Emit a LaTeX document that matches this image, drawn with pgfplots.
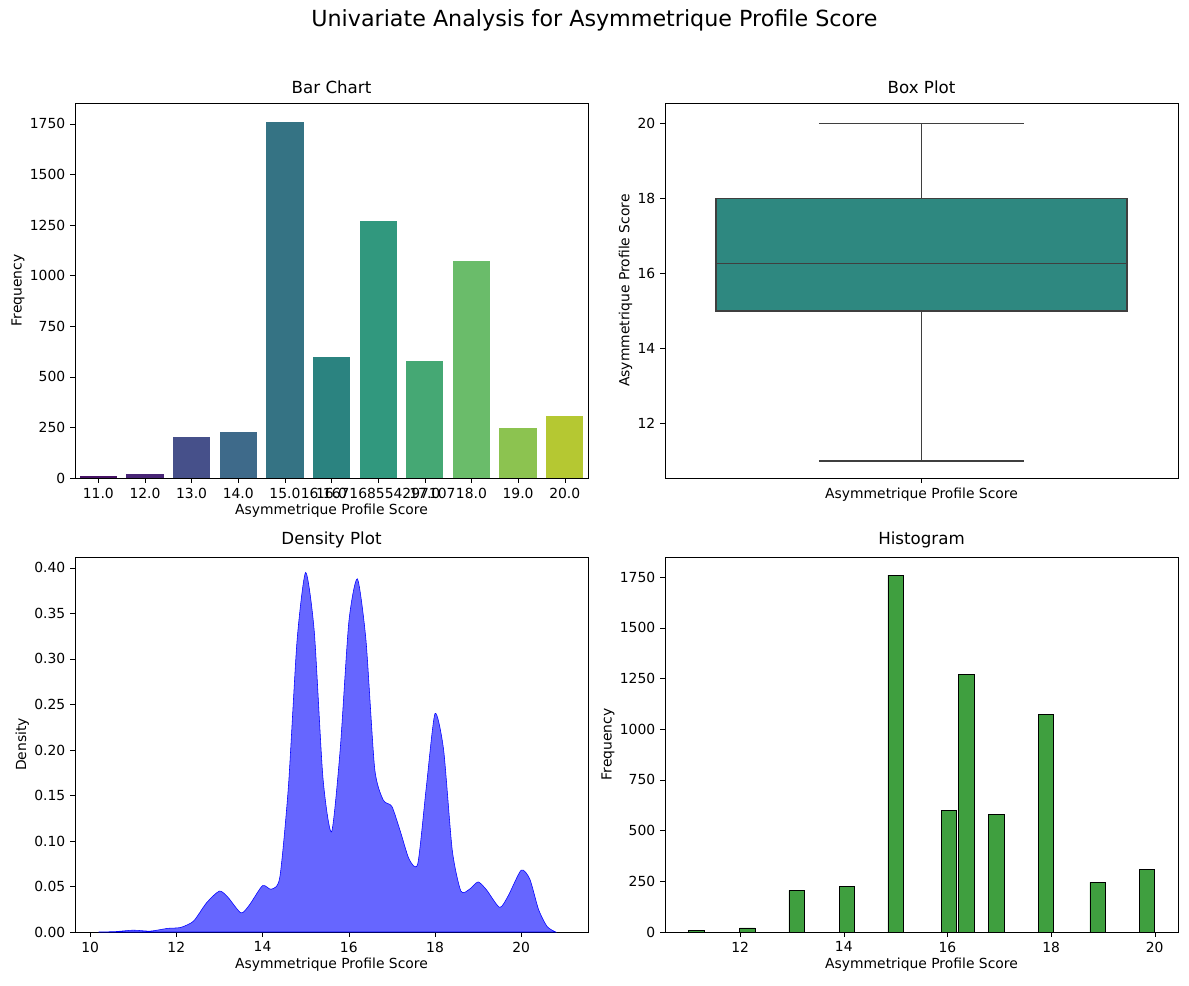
\documentclass[border=0pt]{standalone}
\usepackage{pgfplots}
\pgfplotsset{compat=1.18}
\usepackage{fontspec}
\setmainfont{DejaVu Sans}
\definecolor{v1}{HTML}{471365}
\definecolor{v2}{HTML}{482576}
\definecolor{v3}{HTML}{46508A}
\definecolor{v4}{HTML}{3E6A8A}
\definecolor{v5}{HTML}{357384}
\definecolor{v6}{HTML}{2B8380}
\definecolor{v7}{HTML}{31987E}
\definecolor{v8}{HTML}{45A874}
\definecolor{v9}{HTML}{6ABC6A}
\definecolor{v10}{HTML}{8CC350}
\definecolor{v11}{HTML}{B5C832}
\definecolor{boxc}{HTML}{2E8880}
\definecolor{histc}{HTML}{3F9F3F}
\definecolor{lg}{HTML}{3F3F3F}
\pgfplotsset{every axis/.style={scale only axis, width=369.4pt, height=270pt,
  /pgf/number format/assume math mode=true, font=\fontsize{10}{12}\selectfont,
  tick style={black}, tick align=outside, major tick length=3.5pt,
  title style={font=\fontsize{12}{14}\selectfont, yshift=-3pt},
  xlabel style={yshift=3pt}, ylabel style={yshift=-3pt},
  xtick pos=bottom, ytick pos=left, anchor=south west,
  scaled y ticks=false, yticklabel style={/pgf/number format/fixed, /pgf/number format/1000 sep={}}}}
\begin{document}
\begin{tikzpicture}
\useasboundingbox (0,0) rectangle (856.08pt,709.2pt);
\node at (428pt,694.8pt) {\fontsize{16}{19}\selectfont Univariate Analysis for Asymmetrique Profile Score};
% Bar chart
\begin{axis}[at={(54pt,365.04pt)}, title={Bar Chart}, xlabel={Asymmetrique Profile Score}, ylabel={Frequency},
  xmin=-0.5, xmax=10.5, ymin=0, ymax=1853, xtick={0,...,10},
  xticklabels={11.0,12.0,13.0,14.0,15.0,16.0,16.167168554297107,17.0,18.0,19.0,20.0},
  ytick={0,250,500,750,1000,1250,1500,1750}, ybar, bar width=0.8, bar shift=0pt]
\addplot[fill=v1,draw=none] coordinates {(0,8)};
\addplot[fill=v2,draw=none] coordinates {(1,20)};
\addplot[fill=v3,draw=none] coordinates {(2,205)};
\addplot[fill=v4,draw=none] coordinates {(3,225)};
\addplot[fill=v5,draw=none] coordinates {(4,1760)};
\addplot[fill=v6,draw=none] coordinates {(5,600)};
\addplot[fill=v7,draw=none] coordinates {(6,1270)};
\addplot[fill=v8,draw=none] coordinates {(7,580)};
\addplot[fill=v9,draw=none] coordinates {(8,1072)};
\addplot[fill=v10,draw=none] coordinates {(9,245)};
\addplot[fill=v11,draw=none] coordinates {(10,308)};
\end{axis}
% Box plot
\begin{axis}[at={(478.8pt,365.04pt)}, title={Box Plot}, ylabel={Asymmetrique Profile Score},
  xmin=-0.5, xmax=0.5, ymin=10.55, ymax=20.55, xtick={0}, xticklabels={Asymmetrique Profile Score},
  ytick={12,14,16,18,20}]
\addplot[fill=boxc, draw=lg, line width=1.2pt] coordinates {(-0.4,15) (0.4,15) (0.4,18) (-0.4,18)} -- cycle;
\addplot[draw=lg, line width=1.2pt] coordinates {(-0.4,16.27) (0.4,16.27)};
\addplot[draw=lg, line width=1.2pt] coordinates {(0,15) (0,11)};
\addplot[draw=lg, line width=1.2pt] coordinates {(0,18) (0,20)};
\addplot[draw=lg, line width=1.2pt] coordinates {(-0.2,11) (0.2,11)};
\addplot[draw=lg, line width=1.2pt] coordinates {(-0.2,20) (0.2,20)};
\end{axis}
% Density
\begin{axis}[at={(54pt,38.16pt)}, title={Density Plot}, xlabel={Asymmetrique Profile Score}, ylabel={Density},
  xmin=9.65, xmax=21.55, ymin=0, ymax=0.412, xtick={10,12,14,16,18,20},
  ytick={0,0.05,0.1,0.15,0.2,0.25,0.3,0.35,0.4},
  yticklabel style={/pgf/number format/fixed, /pgf/number format/fixed zerofill, /pgf/number format/precision=2}]
\addplot[blue, fill=blue, fill opacity=0.6, draw opacity=1, smooth, tension=0.4] coordinates {
(10.2,0) (10.6,0.0005) (11.0,0.002) (11.4,0.001) (11.8,0.004) (12.1,0.005) (12.4,0.012) (12.7,0.032) (13.0,0.045) (13.2,0.038) (13.5,0.021)
(13.7,0.030) (14.0,0.051) (14.2,0.047) (14.4,0.06) (14.6,0.16) (14.8,0.32) (15.0,0.395) (15.2,0.33) (15.4,0.17) (15.6,0.11)
(15.8,0.2) (16.0,0.34) (16.2,0.388) (16.4,0.32) (16.6,0.18) (16.8,0.145) (17.0,0.138) (17.2,0.11) (17.4,0.08) (17.6,0.075)
(17.8,0.16) (18.0,0.24) (18.2,0.2) (18.4,0.09) (18.6,0.045) (18.8,0.047) (19.0,0.055) (19.2,0.046) (19.5,0.027)
(19.7,0.04) (20.0,0.068) (20.2,0.058) (20.4,0.025) (20.6,0.006) (20.8,0)} \closedcycle;
\end{axis}
% Histogram
\begin{axis}[at={(478.8pt,38.16pt)}, title={Histogram}, xlabel={Asymmetrique Profile Score}, ylabel={Frequency},
  xmin=10.55, xmax=20.45, ymin=0, ymax=1849, xtick={12,14,16,18,20},
  ytick={0,250,500,750,1000,1250,1500,1750}, ybar, bar width=0.3, bar shift=0pt]
\addplot[fill=histc, draw=black] coordinates {(11.15,8) (12.14,20) (13.09,205) (14.06,225) (15.0,1760) (16.03,600) (16.36,1270) (16.94,580) (17.9,1072) (18.9,245) (19.85,308)};
\end{axis}
\end{tikzpicture}
\end{document}
